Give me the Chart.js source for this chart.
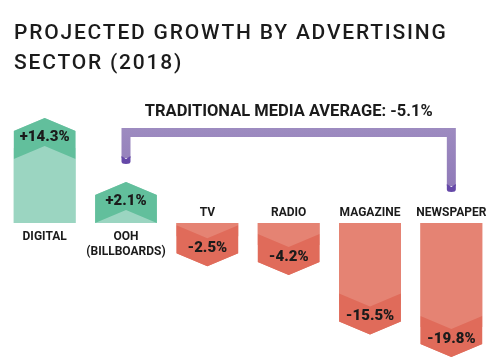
<!DOCTYPE html>
<html>
<head>
<meta charset="utf-8">
<script src="https://cdn.jsdelivr.net/npm/chart.js@4.4.1/dist/chart.umd.min.js"></script>
<style>
  html, body { margin: 0; padding: 0; background: #ffffff; }
  canvas { display: block; }
</style>
</head>
<body>
<canvas id="c" width="500" height="363"></canvas>
<script>
// ---- data ----
const titleLines = ['PROJECTED GROWTH BY ADVERTISING', 'SECTOR (2018)'];
const categories = [['DIGITAL'], ['OOH', '(BILLBOARDS)'], ['TV'], ['RADIO'], ['MAGAZINE'], ['NEWSPAPER']];
const growth = [14.3, 2.1, -2.5, -4.2, -15.5, -19.8];
const traditionalAverage = -5.1;
const traditionalRange = [1, 5]; // OOH .. NEWSPAPER
const yRange = [-26, 40];

// ---- styles ----
const GREEN = { light: '#9bd5c1', dark: '#62bf9c' };
const RED = { light: '#e58373', dark: '#e06b5a' };
const PURPLE = { top: '#9d8bc0', bottom: '#8f79b8', tip: '#6548a8' };
const INK = '#1b1b1b';

function fmt(v) { return (v > 0 ? '+' : v < 0 ? '-' : '') + Math.abs(v).toFixed(1) + '%'; }

const shapePlugin = {
  id: 'shapes',
  afterDatasetsDraw(chart) {
    const ctx = chart.ctx;
    const meta = chart.getDatasetMeta(0);
    const EXT = 17, TIP = 13, BAND = 28;
    ctx.save();
    meta.data.forEach((bar, i) => {
      const p = bar.getProps(['x', 'y', 'base', 'width'], true);
      const v = growth[i];
      const dir = v >= 0 ? -1 : 1;
      const pal = v >= 0 ? GREEN : RED;
      const l = p.x - p.width / 2, r = p.x + p.width / 2;
      const shoulder = p.y + dir * EXT;
      const tip = shoulder + dir * TIP;
      // outer shape
      ctx.beginPath();
      ctx.moveTo(l, p.base);
      ctx.lineTo(l, shoulder);
      ctx.lineTo(p.x, tip);
      ctx.lineTo(r, shoulder);
      ctx.lineTo(r, p.base);
      ctx.closePath();
      ctx.fillStyle = pal.light;
      ctx.fill();
      ctx.save();
      ctx.clip();
      ctx.beginPath();
      ctx.moveTo(l, shoulder - dir * BAND);
      ctx.lineTo(p.x, tip - dir * BAND);
      ctx.lineTo(r, shoulder - dir * BAND);
      ctx.lineTo(r, shoulder + dir * 30);
      ctx.lineTo(p.x, tip + dir * 30);
      ctx.lineTo(l, shoulder + dir * 30);
      ctx.closePath();
      ctx.fillStyle = pal.dark;
      ctx.fill();
      ctx.restore();
      // value label
      ctx.fillStyle = INK;
      ctx.font = '900 15px Roboto';
      ctx.textAlign = 'center';
      ctx.textBaseline = 'middle';
      ctx.fillText(fmt(v), p.x, shoulder - dir * 5.5 + 0.5);
      // category label
      ctx.font = 'bold 12px Roboto';
      const lines = categories[i];
      lines.forEach((t, k) => {
        let yy;
        if (v >= 0) yy = p.base + 13.5 + k * 15;
        else yy = p.base - 10 - (lines.length - 1 - k) * 15;
        ctx.fillText(t, p.x, yy);
      });
    });

    // bracket for traditional media
    const a = meta.data[traditionalRange[0]];
    const b = meta.data[traditionalRange[1]];
    const base = a.base;
    const aTip = a.y - 17 - 13;
    const W = 9;
    const topY = base - 95;
    const leftEnd = aTip - 18;
    const rightEnd = base - 31;
    const grad = ctx.createLinearGradient(0, topY, 0, rightEnd);
    grad.addColorStop(0, PURPLE.top);
    grad.addColorStop(1, PURPLE.bottom);
    ctx.fillStyle = grad;
    ctx.beginPath();
    ctx.moveTo(a.x - W / 2, leftEnd - 6);
    ctx.lineTo(a.x - W / 2, topY);
    ctx.lineTo(b.x + W / 2, topY);
    ctx.lineTo(b.x + W / 2, rightEnd - 6);
    ctx.lineTo(b.x - W / 2, rightEnd - 6);
    ctx.lineTo(b.x - W / 2, topY + W);
    ctx.lineTo(a.x + W / 2, topY + W);
    ctx.lineTo(a.x + W / 2, leftEnd - 6);
    ctx.closePath();
    ctx.fill();
    [[a.x, leftEnd], [b.x, rightEnd]].forEach(([cx, ey]) => {
      ctx.beginPath();
      ctx.moveTo(cx - W / 2, ey - 8);
      ctx.lineTo(cx, ey - 5);
      ctx.lineTo(cx + W / 2, ey - 8);
      ctx.lineTo(cx + W / 2, ey - 2.5);
      ctx.quadraticCurveTo(cx + W / 2, ey, cx, ey);
      ctx.quadraticCurveTo(cx - W / 2, ey, cx - W / 2, ey - 2.5);
      ctx.closePath();
      ctx.fillStyle = PURPLE.tip;
      ctx.fill();
    });
    ctx.fillStyle = INK;
    ctx.font = 'bold 16.5px Roboto';
    ctx.textAlign = 'center';
    ctx.textBaseline = 'middle';
    ctx.fillText('TRADITIONAL MEDIA AVERAGE: ' + fmt(traditionalAverage), (a.x + b.x) / 2, topY - 16);

    // title
    ctx.fillStyle = INK;
    ctx.font = '500 21px Roboto';
    ctx.textAlign = 'left';
    ctx.textBaseline = 'alphabetic';
    ctx.letterSpacing = '1.8px';
    ctx.fillText(titleLines[0], 14, 38.5);
    ctx.fillText(titleLines[1], 14, 68.5);
    ctx.letterSpacing = '0px';
    ctx.restore();
  }
};

new Chart(document.getElementById('c'), {
  type: 'bar',
  data: {
    labels: categories.map(c => c.join(' ')),
    datasets: [{
      data: growth,
      backgroundColor: growth.map(v => v >= 0 ? GREEN.light : RED.light),
      borderWidth: 0,
      barPercentage: 0.76,
      categoryPercentage: 1
    }]
  },
  options: {
    responsive: false,
    devicePixelRatio: 1,
    animation: false,
    layout: { padding: { left: 4, right: 8, top: 13, bottom: 3.5 } },
    scales: {
      x: { display: false },
      y: { display: false, min: yRange[0], max: yRange[1] }
    },
    plugins: {
      legend: { display: false },
      tooltip: { enabled: false },
      title: { display: false }
    }
  },
  plugins: [shapePlugin]
});
</script>
</body>
</html>
